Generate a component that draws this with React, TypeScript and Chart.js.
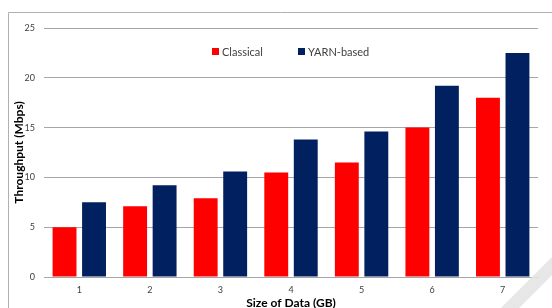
import React, { useEffect, useRef } from "react";
import { Chart, registerables } from "chart.js";

Chart.register(...registerables);

const categories = ["1", "2", "3", "4", "5", "6", "7"];
const classical = [5.0, 7.1, 7.9, 10.5, 11.5, 15.0, 18.0];
const yarnBased = [7.5, 9.2, 10.6, 13.8, 14.6, 19.2, 22.5];
const seriesNames = ["Classical", "YARN-based"];
const seriesColors = ["#ff0000", "#002060"];
const yTicks = [0, 5, 10, 15, 20, 25];

const FONT = "Lato, 'Open Sans', sans-serif";

const frameAndLegend = {
  id: "frameAndLegend",
  beforeDraw(chart: any) {
    const ctx = chart.ctx;
    ctx.save();
    ctx.strokeStyle = "#b0b0b0";
    ctx.lineWidth = 1;
    ctx.beginPath();
    ctx.moveTo(8.5, 330);
    ctx.lineTo(8.5, 12.5);
    ctx.lineTo(560, 12.5);
    ctx.stroke();
    ctx.restore();
  },
  afterDraw(chart: any) {
    const ctx = chart.ctx;
    ctx.save();
    ctx.font = "11px " + FONT;
    ctx.textBaseline = "middle";
    ctx.textAlign = "left";
    const y = 52;
    const xs = [212, 298];
    chart.data.datasets.forEach((ds: any, i: number) => {
      ctx.fillStyle = ds.backgroundColor;
      ctx.fillRect(xs[i], y - 4, 7, 7);
      ctx.fillStyle = "#404040";
      ctx.fillText(ds.label, xs[i] + 10, y);
    });
    ctx.strokeStyle = "rgba(228,228,228,0.9)";
    ctx.lineWidth = 13;
    ctx.beginPath();
    ctx.moveTo(506, 312);
    ctx.lineTo(556, 262);
    ctx.stroke();
    ctx.restore();
  },
};

export default function App() {
  const ref = useRef<HTMLCanvasElement | null>(null);
  useEffect(() => {
    if (!ref.current) return;
    const chart = new Chart(ref.current, {
      type: "bar",
      data: {
        labels: categories,
        datasets: [
          { label: seriesNames[0], data: classical, backgroundColor: seriesColors[0] },
          { label: seriesNames[1], data: yarnBased, backgroundColor: seriesColors[1] },
        ],
      },
      options: {
        animation: false,
        responsive: false,
        maintainAspectRatio: false,
        layout: { padding: { left: 0, right: 14, top: 28, bottom: 0 } },
        datasets: { bar: { categoryPercentage: 0.836, barPercentage: 0.81 } },
        plugins: { legend: { display: false }, tooltip: { enabled: false } },
        scales: {
          x: {
            grid: { display: false, drawTicks: false },
            border: { display: true, color: "#a6a6a6", width: 1 },
            ticks: { color: "#404040", font: { size: 9, family: FONT }, padding: 8 },
            title: {
              display: true,
              text: "Size of Data (GB)",
              color: "#000",
              font: { size: 12, weight: "bold", family: FONT },
              padding: { top: 0, bottom: 6 },
            },
            afterFit(scale: any) {
              scale.height = 39;
            },
          },
          y: {
            min: 0,
            max: 25,
            afterBuildTicks(scale: any) {
              scale.ticks = yTicks.map((v) => ({ value: v }));
            },
            grid: { color: "#a6a6a6", drawTicks: false },
            border: { display: false },
            ticks: { color: "#404040", font: { size: 9, family: FONT }, padding: 9 },
            title: {
              display: true,
              text: "Throughput (Mbps)",
              color: "#000",
              font: { size: 12, weight: "bold", family: FONT },
              padding: { top: 12, bottom: 0 },
            },
            afterFit(scale: any) {
              scale.width = 44;
            },
          },
        },
      },
      plugins: [frameAndLegend],
    });
    return () => chart.destroy();
  }, []);
  return (
    <div style={{ position: "absolute", left: 0, top: 0, width: 552, height: 308, overflow: "hidden", background: "#fff" }}>
      <canvas ref={ref} width={552} height={316} style={{ display: "block" }} />
    </div>
  );
}
